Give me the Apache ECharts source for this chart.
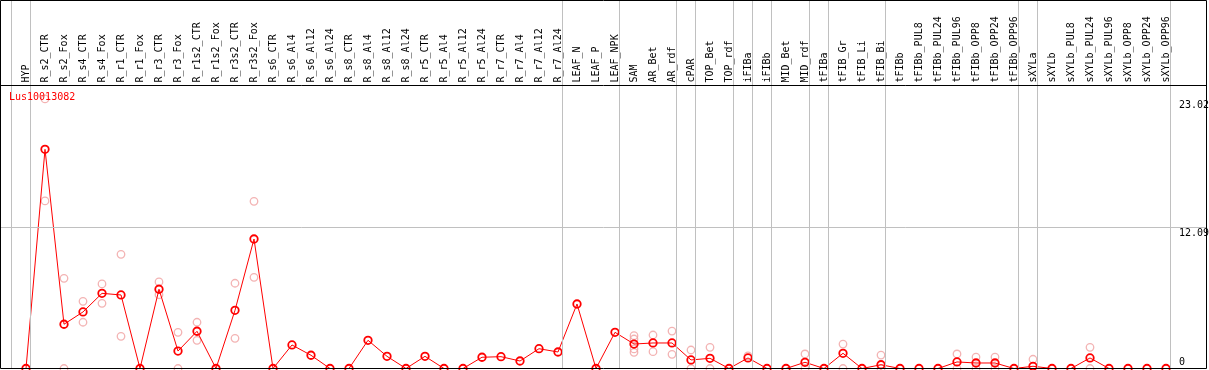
<!DOCTYPE html>
<html><head><meta charset="utf-8">
<script src="https://cdn.jsdelivr.net/npm/echarts@6/dist/echarts.min.js"></script>
<style>html,body{margin:0;padding:0;background:#fff}#c{width:1209px;height:370px}</style>
</head><body><div id="c"></div>
<script>
const geneName = 'Lus10013082';
const categories = ['HYP','R_s2_CTR','R_s2_Fox','R_s4_CTR','R_s4_Fox','R_r1_CTR','R_r1_Fox','R_r3_CTR','R_r3_Fox',
  'R_r1s2_CTR','R_r1s2_Fox','R_r3s2_CTR','R_r3s2_Fox','R_s6_CTR','R_s6_Al4','R_s6_Al12','R_s6_Al24',
  'R_s8_CTR','R_s8_Al4','R_s8_Al12','R_s8_Al24','R_r5_CTR','R_r5_Al4','R_r5_Al12','R_r5_Al24',
  'R_r7_CTR','R_r7_Al4','R_r7_Al12','R_r7_Al24','LEAF_N','LEAF_P','LEAF_NPK','SAM','AR_Bet','AR_rdf',
  'cPAR','TOP_Bet','TOP_rdf','iFIBa','iFIBb','MID_Bet','MID_rdf','tFIBa','tFIB_Gr','tFIB_Li','tFIB_Bi',
  'tFIBb','tFIBb_PUL8','tFIBb_PUL24','tFIBb_PUL96','tFIBb_OPP8','tFIBb_OPP24','tFIBb_OPP96',
  'sXYLa','sXYLb','sXYLb_PUL8','sXYLb_PUL24','sXYLb_PUL96','sXYLb_OPP8','sXYLb_OPP24','sXYLb_OPP96'];
const meanValues = [0,18.72,3.78,4.83,6.42,6.28,0,6.77,1.49,3.18,0,4.97,11.06,0,2.01,1.13,0,0,2.41,1.04,0,
  1.04,0,0,0.96,1.01,0.64,1.69,1.41,5.51,0,3.09,2.09,2.18,2.18,0.73,0.87,0,0.90,0,0,0.53,0,1.30,0,0.32,
  0,0,0,0.56,0.47,0.47,0,0.19,0,0,0.90,0,0,0,0];
const rep1 = [null,23.02,7.70,5.74,7.22,9.75,null,7.39,3.09,3.95,null,7.28,14.28,null,null,null,null,null,null,null,null,
  null,null,null,null,null,null,null,null,null,null,null,2.80,2.86,3.20,1.58,1.81,null,1.07,null,null,1.24,null,2.09,null,1.15,
  null,null,null,1.24,0.98,0.98,null,0.79,null,null,1.81,null,null,null,null];
const rep2 = [null,14.31,0,3.95,5.57,2.75,null,6.30,0,2.41,null,2.58,7.79,null,null,null,null,null,null,null,null,
  null,null,null,null,null,null,null,null,null,null,null,2.52,1.44,1.21,0,0,null,null,null,null,0,null,0,null,0,
  null,null,null,0,0,0,null,null,null,null,0,null,null,null,null];
const rep3 = {SAM: 1.67};
const rep4 = {SAM: 1.38};
const groupEnds = ['HYP','R_r7_Al24','LEAF_NPK','AR_rdf','cPAR','TOP_rdf','iFIBa','iFIBb','MID_rdf','tFIBa','tFIB_Bi','tFIBb_OPP96','sXYLa','sXYLb_OPP96'];
const yTickLabels = [0, 12.09, 23.02];
const gridLineValue = 12.09;

const FONT = '"DejaVu Sans Mono", "Liberation Mono", monospace';
const yMaxPlot = 24.17;
const yMaxFull = yMaxPlot * 368.5 / 283;

const repData = [];
[rep1, rep2].forEach(arr => arr.forEach((v, i) => { if (v !== null) repData.push([i, v]); }));
[rep3, rep4].forEach(o => Object.keys(o).forEach(k => repData.push([categories.indexOf(k), o[k]])));

const sepData = [{xAxis: -0.8}].concat(groupEnds.map(n => ({xAxis: categories.indexOf(n) + 0.237})));
sepData.push({yAxis: gridLineValue});

const chart = echarts.init(document.getElementById('c'), null, {renderer: 'canvas'});
chart.setOption({
  animation: false,
  backgroundColor: '#fff',
  grid: [
    {left: 16.5, right: 33.5, top: 85.5, bottom: 1.5},
    {left: 0, right: 2, top: 0, bottom: 1.5}
  ],
  xAxis: [
    {type: 'category', gridIndex: 0, position: 'top', data: categories, boundaryGap: true,
     axisLine: {show: false}, axisTick: {show: false}, splitLine: {show: false},
     axisLabel: {rotate: 90, interval: 0, fontFamily: FONT, fontSize: 10, color: '#000', margin: 3}},
    {type: 'value', gridIndex: 1, min: -26 / 19, max: 1181 / 19, show: false}
  ],
  yAxis: [
    {type: 'value', gridIndex: 0, min: 0, max: yMaxPlot, show: false, splitLine: {show: false}},
    {type: 'value', gridIndex: 1, min: 0, max: yMaxFull, show: false, splitLine: {show: false}}
  ],
  series: [
    {type: 'line', xAxisIndex: 1, yAxisIndex: 1, data: [[0, -5]], symbol: 'none', silent: true,
     lineStyle: {opacity: 0}, z: 1,
     markLine: {silent: true, symbol: ['none', 'none'], label: {show: false}, animation: false,
       lineStyle: {color: '#c0c0c0', type: 'solid', width: 1}, emphasis: {disabled: true}, data: sepData}},
    {type: 'scatter', xAxisIndex: 0, yAxisIndex: 0, data: repData, symbol: 'circle', symbolSize: 7.5,
     clip: false, z: 3, silent: true,
     itemStyle: {color: 'rgba(0,0,0,0)', borderColor: '#f0a0a0', borderWidth: 1.3}},
    {type: 'line', xAxisIndex: 0, yAxisIndex: 0, data: meanValues, symbol: 'circle', symbolSize: 7.5,
     showAllSymbol: true, clip: false, z: 4, silent: true,
     itemStyle: {color: 'rgba(0,0,0,0)', borderColor: '#ff0000', borderWidth: 1.8},
     lineStyle: {color: '#ff0000', width: 1}}
  ]
});

const g = [
  {type: 'rect', shape: {x: 0.5, y: 0.5, width: 1206, height: 368}, style: {fill: 'none', stroke: '#000', lineWidth: 1}, z: 100},
  {type: 'line', shape: {x1: 0, y1: 85.5, x2: 1207, y2: 85.5}, style: {stroke: '#000', lineWidth: 1}, z: 100},
  {type: 'text', x: 9, y: 97, style: {text: geneName, fill: '#ff0000', font: '10px ' + FONT, verticalAlign: 'middle', align: 'left'}, z: 101}
];
yTickLabels.forEach(v => {
  const py = chart.convertToPixel({yAxisIndex: 0}, v);
  g.push({type: 'text', x: 1179, y: v === 0 ? py - 1.5 : py + 1.5,
    style: {text: String(v), fill: '#000', font: '10px ' + FONT, verticalAlign: v === 0 ? 'bottom' : 'top', align: 'left'}, z: 101});
});
chart.setOption({graphic: g});
</script>
</body></html>
